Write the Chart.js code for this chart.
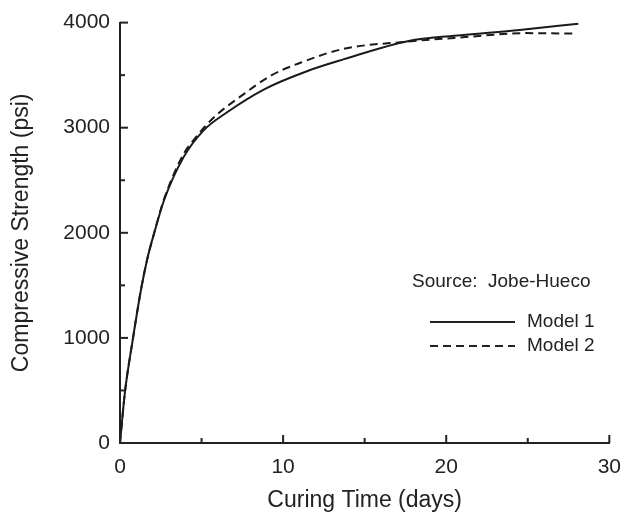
<!DOCTYPE html>
<html>
<head>
<meta charset="utf-8">
<script src="https://cdn.jsdelivr.net/npm/chart.js@4.4.0/dist/chart.umd.min.js"></script>
<style>
  html, body { margin: 0; padding: 0; background: #fff; }
  #wrap { width: 633px; height: 518px; }
</style>
</head>
<body>
<div id="wrap"><canvas id="myChart"></canvas></div>
<script>
// Données : temps de cure (jours) et résistance (psi)
const model1Days = [0, 0.3, 0.8, 1.3, 1.7, 2.1, 2.7, 3.9, 5.1, 6.5, 8.9, 11.5, 13.7, 17.7, 20.5, 24.5, 28.1];
const model1Psi  = [0, 480, 1000, 1470, 1770, 2000, 2310, 2720, 2970, 3140, 3370, 3540, 3650, 3825, 3875, 3930, 3990];
const model2Days = [0, 0.3, 0.8, 1.3, 1.7, 2.1, 2.7, 3.9, 4.5, 5.7, 7.5, 9.3, 11.1, 13.7, 17.7, 21, 24.9, 28];
const model2Psi  = [0, 480, 1000, 1470, 1770, 2000, 2320, 2750, 2880, 3090, 3310, 3500, 3620, 3750, 3820, 3860, 3900, 3895];
const xTicks = [0, 10, 20, 30];
const yTicks = [0, 1000, 2000, 3000, 4000];
const sourceText = 'Source:  Jobe-Hueco';
const seriesNames = ['Model 1', 'Model 2'];

const FONT = '"Liberation Sans", Arial, sans-serif';

function toPoints(xs, ys) {
    return xs.map((x, i) => ({ x: x, y: ys[i] }));
}

// Petites graduations tournées vers l'intérieur + légende dans le graphique
const insideTicks = {
    id: 'insideTicks',
    afterDraw(chart) {
        const ctx = chart.ctx;
        const xs = chart.scales.x, ys = chart.scales.y;
        const area = chart.chartArea;
        ctx.save();
        ctx.strokeStyle = '#222';
        ctx.lineWidth = 2;
        for (let v = 0; v <= 30; v += 5) {
            const px = xs.getPixelForValue(v);
            const len = v % 10 === 0 ? 8 : 5;
            ctx.beginPath();
            ctx.moveTo(px, area.bottom);
            ctx.lineTo(px, area.bottom - len);
            ctx.stroke();
        }
        for (let v = 0; v <= 4000; v += 500) {
            const py = ys.getPixelForValue(v);
            const len = v % 1000 === 0 ? 8 : 5;
            ctx.beginPath();
            ctx.moveTo(area.left, py);
            ctx.lineTo(area.left + len, py);
            ctx.stroke();
        }

        // légende
        ctx.fillStyle = '#222';
        ctx.font = '19px ' + FONT;
        ctx.textBaseline = 'middle';
        ctx.textAlign = 'left';
        ctx.fillText(sourceText, 412, 282);
        chart.data.datasets.forEach((ds, i) => {
            const y = 322 + i * 24;
            ctx.beginPath();
            ctx.setLineDash(ds.borderDash || []);
            ctx.lineWidth = 2;
            ctx.moveTo(430, y);
            ctx.lineTo(515, y);
            ctx.stroke();
            ctx.setLineDash([]);
            ctx.fillText(seriesNames[i], 527, y);
        });
        ctx.restore();
    }
};

document.addEventListener('DOMContentLoaded', function() {
    const ctx = document.getElementById('myChart').getContext('2d');

    new Chart(ctx, {
        type: 'line',
        data: {
            datasets: [{
                label: seriesNames[0],
                data: toPoints(model1Days, model1Psi),
                borderColor: '#1a1a1a',
                borderWidth: 2,
                pointRadius: 0,
                cubicInterpolationMode: 'monotone',
                fill: false
            }, {
                label: seriesNames[1],
                data: toPoints(model2Days, model2Psi),
                borderColor: '#1a1a1a',
                borderWidth: 2,
                borderDash: [8, 5],
                pointRadius: 0,
                cubicInterpolationMode: 'monotone',
                fill: false
            }]
        },
        options: {
            responsive: true,
            maintainAspectRatio: false,
            animation: false,
            layout: { padding: { left: 4, right: 15, top: 22, bottom: 0 } },
            plugins: {
                legend: { display: false },
                tooltip: { enabled: false }
            },
            scales: {
                x: {
                    type: 'linear',
                    min: 0,
                    max: 30,
                    afterBuildTicks: s => { s.ticks = xTicks.map(v => ({ value: v })); },
                    afterFit: s => { s.height = 75; },
                    grid: { display: false, drawTicks: false },
                    border: { display: true, color: '#222', width: 2 },
                    ticks: {
                        color: '#222', padding: 12,
                        font: { family: FONT, size: 21 },
                        callback: v => String(v)
                    },
                    title: {
                        display: true,
                        text: 'Curing Time (days)',
                        color: '#222',
                        padding: { top: 2 },
                        font: { family: FONT, size: 23 }
                    }
                },
                y: {
                    min: 0,
                    max: 4000,
                    afterBuildTicks: s => { s.ticks = yTicks.map(v => ({ value: v })); },
                    afterFit: s => { s.width = 116; },
                    grid: { display: false, drawTicks: false },
                    border: { display: true, color: '#222', width: 2 },
                    ticks: {
                        color: '#222', padding: 10,
                        font: { family: FONT, size: 21 },
                        callback: v => String(v)
                    },
                    title: {
                        display: true,
                        text: 'Compressive Strength (psi)',
                        color: '#222',
                        padding: { bottom: 2 },
                        font: { family: FONT, size: 23 }
                    }
                }
            }
        },
        plugins: [insideTicks]
    });
});
</script>
</body>
</html>
